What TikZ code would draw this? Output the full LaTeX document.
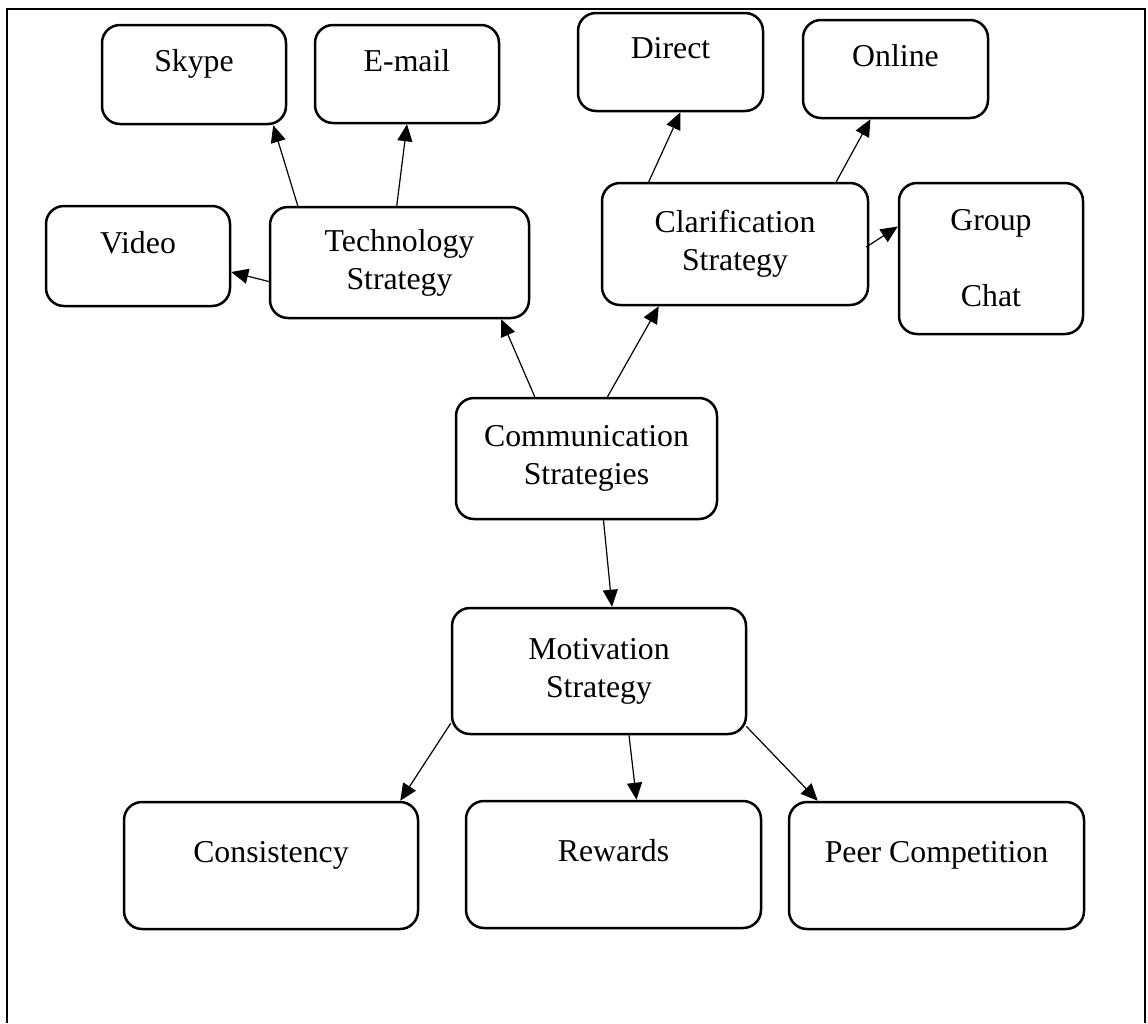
\documentclass[tikz,border=0pt]{standalone}
\usepackage{fontspec}
\setmainfont{Liberation Serif}
\usetikzlibrary{arrows.meta}

\begin{document}
\begin{tikzpicture}[x=1pt,y=-1pt,
    font=\fontsize{31.8}{38}\selectfont,
    box/.style={draw,rounded corners=18pt,line width=2.5pt,align=center,inner sep=0pt},
    arr/.style={-{Triangle[length=17pt,width=15pt]},line width=1.2pt}]
      \useasboundingbox (0,0) rectangle (1148,1023);
      % page frame, open at the bottom
      \draw[line width=2.6pt] (7,1023)--(7,9)--(1145,9)--(1145,1023);
      % technology branch
      \node[box,minimum width=184pt,minimum height=99pt] (skype) at (194,74.5) {Skype\\[-10pt] \mbox{}};
      \node[box,minimum width=184pt,minimum height=98pt] (email) at (407,74) {E-mail\\[-10pt] \mbox{}};
      \node[box,minimum width=184pt,minimum height=100pt] (video) at (138,256) {Video\\[-10pt] \mbox{}};
      \node[box,minimum width=259pt,minimum height=111pt] (tech) at (399.5,262.5) {Technology\\ Strategy};
      % clarification branch
      \node[box,minimum width=185pt,minimum height=98pt] (direct) at (670.5,62) {Direct\\[-10pt] \mbox{}};
      \node[box,minimum width=185pt,minimum height=98pt] (online) at (895.5,69) {Online\\[-10pt] \mbox{}};
      \node[box,minimum width=266pt,minimum height=122pt] (clar) at (735,244) {Clarification\\ Strategy};
      \node[box,minimum width=184pt,minimum height=151pt] (group) at (991,258.5) {Group\\ \mbox{}\\ Chat};
      % centre
      \node[box,minimum width=261pt,minimum height=121pt] (comm) at (586.5,458.5) {Communication\\ Strategies};
      \node[box,minimum width=294pt,minimum height=126pt] (mot) at (599,671) {Motivation\\ Strategy};
      % motivation branch
      \node[box,minimum width=294pt,minimum height=127pt] (cons) at (271,865.5) {Consistency\\[-10pt] \mbox{}};
      \node[box,minimum width=295pt,minimum height=127pt] (rew) at (613.5,864.5) {Rewards\\[-10pt] \mbox{}};
      \node[box,minimum width=295pt,minimum height=127pt] (peer) at (936.5,865.5) {Peer Competition\\[-10pt] \mbox{}};
      % arrows
      \draw[arr] ([xshift=29pt]tech.north west)--([xshift=-14pt]skype.south east);
      \draw[arr] ([xshift=128pt]tech.north west)--(email.south);
      \draw[arr] ([yshift=-19pt]tech.west)--([yshift=-16pt]video.east);
      \draw[arr] ([xshift=48pt]clar.north west)--([xshift=10pt]direct.south);
      \draw[arr] ([xshift=-33pt]clar.north east)--([xshift=-25pt]online.south);
      \draw[arr] ([xshift=-3pt,yshift=-3pt]clar.east)--([yshift=32pt]group.west);
      \draw[arr] ([xshift=80pt]comm.north west)--([xshift=-29pt]tech.south east);
      \draw[arr] ([xshift=21pt]comm.north)--([xshift=58pt]clar.south west);
      \draw[arr] ([xshift=17pt]comm.south)--([xshift=13pt]mot.north);
      \draw[arr] ([yshift=12pt]mot.south west)--([xshift=-19pt]cons.north east);
      \draw[arr] ([xshift=30pt]mot.south)--([xshift=23pt]rew.north);
      \draw[arr] ([xshift=-1pt,yshift=9pt]mot.south east)--([xshift=30pt]peer.north west);
    \end{tikzpicture}
\end{document}
